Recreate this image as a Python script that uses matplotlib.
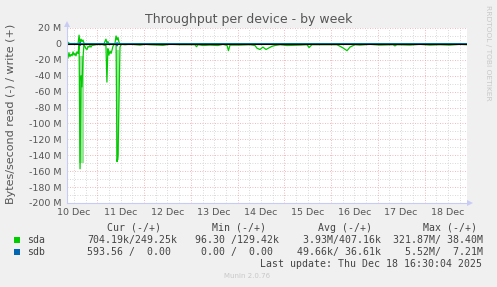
import matplotlib
matplotlib.use("Agg")
import matplotlib.pyplot as plt
from matplotlib.patches import Polygon, Rectangle

# time axis: hours since 10 Dec 00:00
x_start, x_end = 8.4, 213.8
day_names = ["10 Dec", "11 Dec", "12 Dec", "13 Dec", "14 Dec",
             "15 Dec", "16 Dec", "17 Dec", "18 Dec"]

# sda, MB/s (read drawn below zero, write above)
sda_hours = [8.4, 8.9, 9.4, 9.9, 10.5, 11.0, 11.5, 12.0, 12.5, 13.0, 13.5, 14.1,
             14.6, 15.1, 15.6, 16.1, 16.6, 17.1, 17.6, 18.1, 18.7, 19.2, 19.7, 20.2,
             20.7, 21.2, 22.2, 23.3, 24.3, 25.3, 26.4, 27.4,
             28.4, 28.9, 29.4, 29.9, 30.5, 31.0, 31.5, 32.0, 32.5, 33.0,
             33.6, 34.1, 34.6, 35.1, 35.6, 36.1, 36.6,
             38.2, 40.8, 45.9, 48.5, 51.0, 57.7, 61.3, 66.4, 74.1, 74.9, 75.7, 78.2,
             81.8, 85.9, 88.5, 90.6, 91.3, 92.1, 97.2, 102.4, 104.9, 106.0, 107.5,
             109.0, 110.6, 112.1, 113.7, 115.2, 117.8, 121.4, 128.0, 131.6, 132.7,
             134.2, 136.8, 147.0, 148.6, 150.1, 152.2, 153.7, 156.3, 158.8, 164.0,
             169.1, 175.8, 176.8, 177.8, 184.5, 189.6, 194.8, 199.9, 205.0, 210.1, 213.8]
sda_read = [14, 18, 11, 16, 13, 15, 10, 14, 12, 15, 10, 12,
            0.5, 157, 40, 54, 18, 1, 3, 6, 7, 3, 4, 2,
            4, 2, 1.5, 1, 0.5, 1, 0.5, 1.5,
            2, 48, 6, 14, 9, 12, 8, 3, 1, 0.5,
            0.5, 148, 140, 73, 4, 1, 0.5,
            1, 0.3, 1.5, 0.5, 1, 1.8, 0.4, 1, 1, 3.5, 1, 2,
            1.5, 2, 0.5, 2, 8.5, 1.5, 1.5, 1, 2, 5.5, 7,
            4, 7, 5, 3, 2, 1, 2, 1.5, 1, 4.5,
            1, 1, 1, 3, 5, 8.5, 4, 1, 1.5, 0.5,
            1.5, 1, 2.5, 1, 1.5, 0.5, 1.5, 1, 1.5, 0.5, 1]
sda_write = [3, 2, 1, 0.5, 0.5, 0.5, 0.5, 0.5, 0.5, 0.5, 0.5, 0.5,
             11, 0, 6, 3, 5, 1, 0.5, 0.3, 0.3, 0.3, 0.3, 0.3,
             0.3, 0.3, 0.3, 0.3, 0.3, 0.3, 0.3, 0.3,
             6, 1, 3, 0.5, 0.3, 0.3, 0.3, 0.3, 0.3, 0.3,
             10, 5, 8, 2, 0.5, 0.3, 0.3,
             0.3, 0.3, 0.3, 0.3, 0.3, 0.3, 0.3, 0.3, 0.3, 0.3, 0.3, 0.3,
             0.3, 0.3, 0.3, 0.3, 0.3, 0.3, 0.3, 0.3, 0.3, 0.3, 0.3,
             0.3, 0.3, 0.3, 0.3, 0.3, 0.3, 0.3, 0.3, 0.3, 0.3,
             0.3, 0.3, 0.3, 0.3, 0.3, 0.3, 0.3, 0.3, 0.3, 0.3,
             0.3, 0.3, 0.3, 0.3, 0.3, 0.3, 0.3, 0.3, 0.3, 0.3, 0.3]

# light smear around the two big read spikes
band_hours = [[14.8, 17.3], [33.4, 35.1]]
band_low = [150, 146]
band_high = [15, 8]

# sdb, MB/s
sdb_hours = [8.4, 14.6, 15.1, 15.6, 33.6, 34.1, 34.6, 213.8]
sdb_read = [0.05, 0.1, 2.0, 0.1, 0.1, 2.5, 0.1, 0.05]
sdb_write = [0, 0, 1.5, 0, 0, 1.5, 0, 0]

# legend table
legend_names = ["sda", "sdb"]
legend_colors = ["#00CC00", "#0066B3"]
headers = ["Cur (-/+)", "Min (-/+)", "Avg (-/+)", "Max (-/+)"]
sda_stats = ["704.19k/249.25k", " 96.30 /129.42k", "  3.93M/407.16k", "321.87M/ 38.40M"]
sdb_stats = ["593.56 /  0.00 ", "  0.00 /  0.00 ", " 49.66k/ 36.61k", "  5.52M/  7.21M"]
last_update = "Last update: Thu Dec 18 16:30:04 2025"

W, H = 497, 287
fig = plt.figure(figsize=(W / 100, H / 100), dpi=100)
fig.patch.set_facecolor("#F0F0F0")

# plot area in pixels: x 67..467, y 28..203
ax = fig.add_axes([67 / W, 1 - 203 / H, 400 / W, 175 / H])
ax.set_facecolor("white")
ax.set_xlim(x_start, x_end)
ax.set_ylim(-200, 20)
for s in ax.spines.values():
    s.set_visible(False)

# grid
dot = (0, (1, 2))
for v in range(-190, 20, 10):
    if v % 20:
        ax.axhline(v, color="#CCCCCC", lw=0.6, ls=dot, zorder=1)
for v in range(-200, 21, 20):
    ax.axhline(v, color="#F0A0A0", lw=0.6, ls=dot, zorder=1)
h = 6
while h < x_end:
    if h > x_start:
        if h % 24:
            ax.axvline(h, color="#CCCCCC", lw=0.6, ls=dot, zorder=1)
        else:
            ax.axvline(h, color="#F0A0A0", lw=0.6, ls=dot, zorder=1)
    h += 6

# data
for hrs, lo, hi in zip(band_hours, band_low, band_high):
    ax.fill_between(hrs, [-lo, -lo], [-hi, -hi], color="#9BE59B", lw=0, zorder=2)
ax.plot(sda_hours, [-v for v in sda_read], color="#00CC00", lw=0.9, zorder=3)
ax.plot(sda_hours, sda_write, color="#00CC00", lw=0.9, zorder=3)
ax.plot(sdb_hours, [-v for v in sdb_read], color="#0066B3", lw=0.9, zorder=4)
ax.plot(sdb_hours, sdb_write, color="#0066B3", lw=0.9, zorder=4)
ax.axhline(0, color="black", lw=0.8, zorder=5)

yt = list(range(-200, 21, 20))
ax.set_yticks(yt)
ax.set_yticklabels([("%d M" % v) if v else "0" for v in yt])
ax.set_xticks([12 + 24 * i for i in range(len(day_names))])
ax.set_xticklabels(day_names)
ax.tick_params(length=0, labelsize=6.8, colors="#555555")
ax.tick_params(axis="y", pad=4.3)
ax.tick_params(axis="x", pad=3.5)

# overlay in pixel coordinates for axes arrows, title and legend
ov = fig.add_axes([0, 0, 1, 1], facecolor="none")
ov.set_xlim(0, W)
ov.set_ylim(H, 0)
ov.axis("off")
ax_col = "#C8CCF4"
ov.plot([67, 67], [203, 24], color=ax_col, lw=0.8)
ov.plot([67, 469], [203, 203], color=ax_col, lw=0.8)
ov.add_patch(Polygon([[64, 27], [70, 27], [67, 21]], closed=True, color=ax_col, lw=0))
ov.add_patch(Polygon([[467, 200], [467, 206], [473, 203]], closed=True, color=ax_col, lw=0))

ov.text(248.4, 23, "Throughput per device - by week", ha="center", va="baseline",
        fontsize=9, color="#555555")
ov.text(11, 114, "Bytes/second read (-) / write (+)", rotation=90, ha="center",
        va="center", fontsize=8, color="#555555")
ov.text(488, 5, "RRDTOOL / TOBI OETIKER", rotation=270, ha="center", va="top",
        fontsize=5.4, color="#C8C8C8")

mono = "DejaVu Sans Mono"
tcol = "#444444"
for x, t in zip([107, 212, 317.7, 422.7], headers):
    ov.text(x, 231, t, family=mono, fontsize=7.1, color=tcol, va="baseline")
field_x = [87, 189.3, 291, 393.3]
for row_y, name, col, stats in zip([243.3, 255], legend_names, legend_colors,
                                   [sda_stats, sdb_stats]):
    ov.add_patch(Rectangle((14, row_y - 6.3), 6, 6, color=col, lw=0))
    ov.text(27, row_y, name, family=mono, fontsize=7.1, color=tcol, va="baseline")
    for x, t in zip(field_x, stats):
        ov.text(x, row_y, t, family=mono, fontsize=7.1, color=tcol, va="baseline")
ov.text(482.3, 267, last_update, family=mono, fontsize=7.1, color=tcol,
        ha="right", va="baseline")
ov.text(247.5, 278, "Munin 2.0.76", ha="center", va="baseline", fontsize=5,
        color="#C8C8C8")

fig.savefig("out.png", dpi=100, facecolor=fig.get_facecolor())
